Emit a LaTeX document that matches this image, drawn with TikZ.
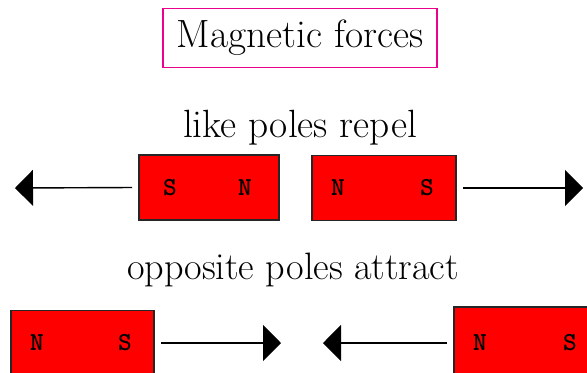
\documentclass[tikz,border=0pt]{standalone}
\usetikzlibrary{arrows.meta}

\begin{document}
\begin{tikzpicture}[x=0.5pt,y=0.5pt,
    magnet/.style={draw=black!85,line width=0.6pt,fill=red,minimum width=70pt,minimum height=32.5pt,outer sep=3.5pt},
    pole/.style={font=\ttfamily\bfseries\fontsize{13pt}{13pt}\selectfont},
    caption/.style={font=\rmfamily\fontsize{19.7pt}{22pt}\selectfont},
    force/.style={line width=0.7pt,-{Triangle[length=9pt,width=18pt]}}]
                \useasboundingbox (0,0) rectangle (587,372);
                \clip (0,0) rectangle (587,372);
                % Title
                \node[caption,draw=magenta,line width=0.9pt,minimum width=137pt,minimum height=29.5pt] (title) at (300,334) {Magnetic forces};

                % like poles repel
                \node[caption] (repel) at (300,244) {like poles repel};
                \node[magnet] (m1) at (209,184.5) {};
                \node[magnet,minimum width=72pt] (m2) at (384,184) {};
                \node[pole] (s1) at (170,184) {S};
                \node[pole] (n1) at (245,184) {N};
                \node[pole] (n2) at (338,184) {N};
                \node[pole] (s2) at (427,184) {S};
                \coordinate (t1) at (15,184);
                \coordinate (t2) at (583,184);
                \draw[force] (m1.west) -- (t1);
                \draw[force] (m2.east) -- (t2);

                % opposite poles attract
                \node[caption,font=\rmfamily\fontsize{19.1pt}{22pt}\selectfont] (attract) at (293,102) {opposite poles attract};
                \node[magnet,minimum width=71.5pt] (m3) at (82.5,29) {};
                \node[magnet,minimum width=71.5pt,minimum height=36pt] (m4) at (525.5,29) {};
                \node[pole] (n3) at (37,29) {N};
                \node[pole] (s3) at (125,29) {S};
                \node[pole] (n4) at (480,29) {N};
                \node[pole] (s4) at (570,29) {S};
                \coordinate (t3) at (281,29);
                \coordinate (t4) at (323,29);
                \draw[force] (m3.east) -- (t3);
                \draw[force] (m4.west) -- (t4);
            \end{tikzpicture}
\end{document}
